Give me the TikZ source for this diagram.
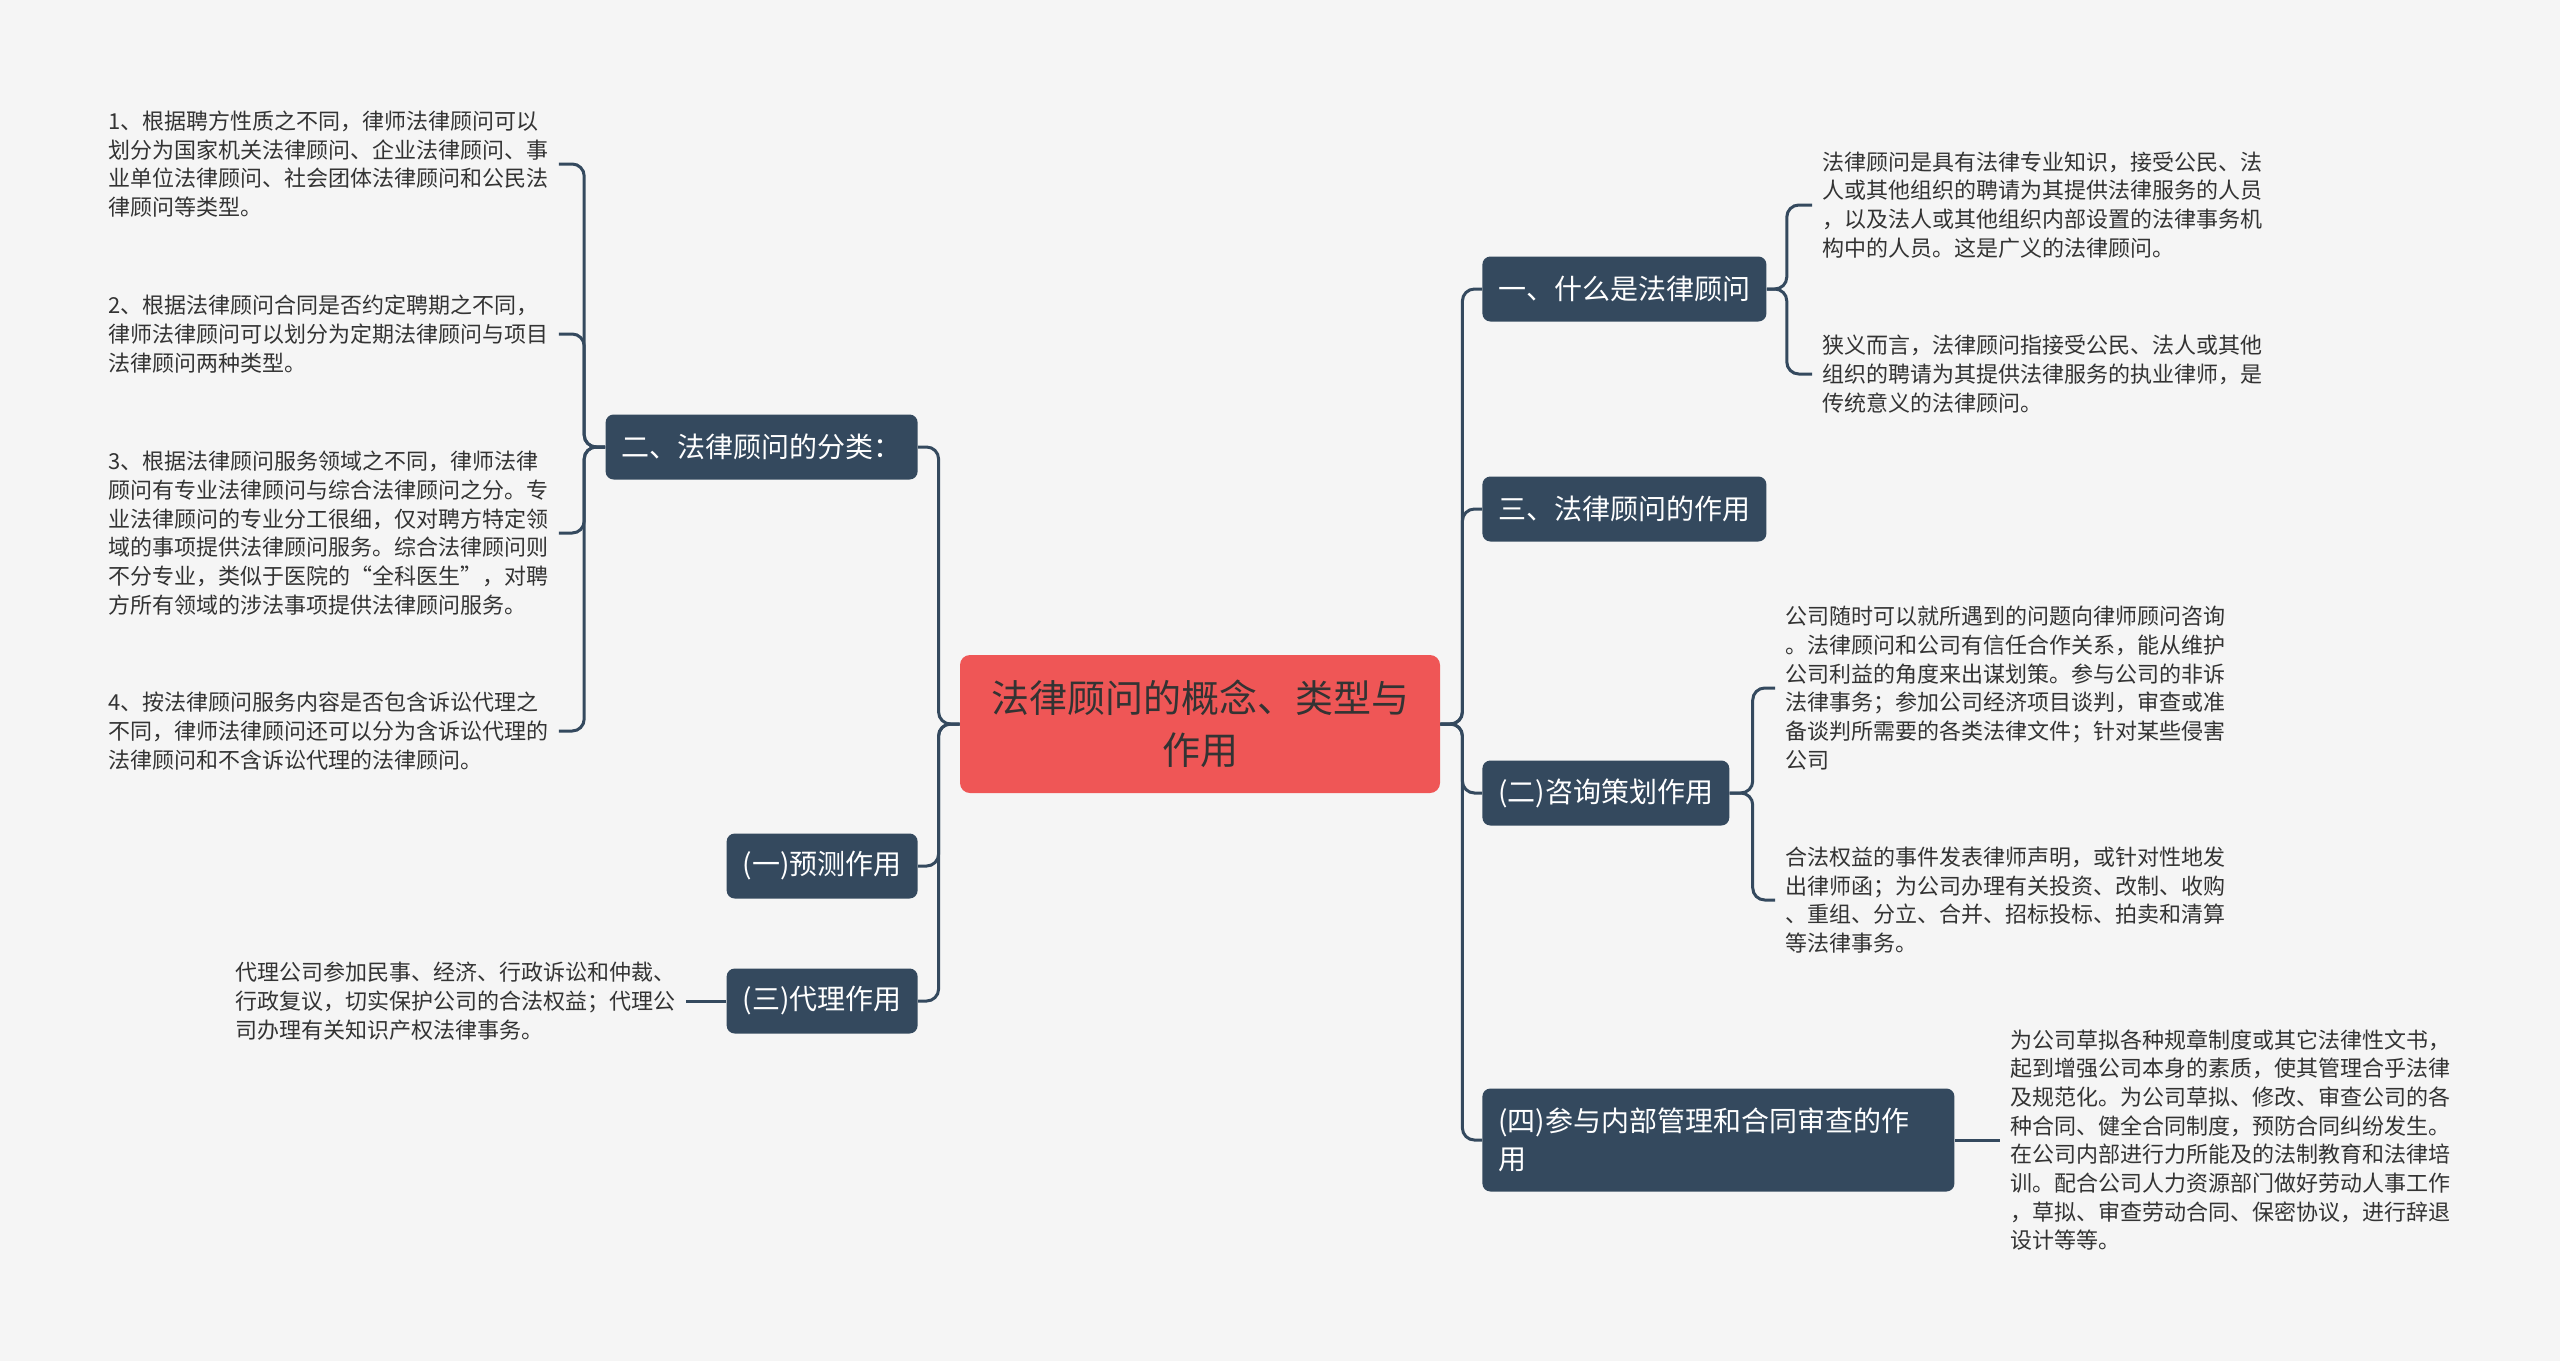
\documentclass[tikz,border=0pt]{standalone}
\usepackage{fontspec}
\setmainfont{Noto Sans CJK SC}
\definecolor{bgc}{HTML}{F5F5F5}
\definecolor{slate}{HTML}{34495E}
\definecolor{rootred}{HTML}{EF5656}
\definecolor{leaftext}{HTML}{333333}
\tikzset{
  topic/.style={fill=slate, text=white, rounded corners=4pt, inner xsep=8pt, minimum height=32.5pt, font=\fontsize{14pt}{19pt}\selectfont},
  leaf/.style={text=leaftext, align=left, inner xsep=5pt, inner ysep=0pt, font=\fontsize{11pt}{14.35pt}\selectfont},
  branch/.style={draw=slate, line width=1.5pt, rounded corners=6pt},
}
\begin{document}
\begin{tikzpicture}[x=0.5pt, y=-0.5pt]
  \useasboundingbox[fill=bgc] (0,0) rectangle (2560,1361);

  \node[fill=rootred, text=leaftext, rounded corners=5pt, minimum width=240pt, minimum height=69pt, align=center, font=\fontsize{19pt}{26pt}\selectfont] (root) at (1200,724) {法律顾问的概念、类型与\\作用};

  \node[topic, anchor=east] (fenlei) at (918,447) {二、法律顾问的分类：};
  \node[topic, anchor=east] (yuce) at (918,866) {(一)预测作用};
  \node[topic, anchor=east] (daili) at (918,1001) {(三)代理作用};

  \node[topic, anchor=west] (shenme) at (1482,289) {一、什么是法律顾问};
  \node[topic, anchor=west] (zuoyong) at (1482,509) {三、法律顾问的作用};
  \node[topic, anchor=west] (zixun) at (1482,793) {(二)咨询策划作用};
  \node[topic, anchor=west, align=left, text width=220pt, minimum height=51.5pt] (guanli) at (1482,1140) {(四)参与内部管理和合同审查的作\\用};

  \node[leaf, anchor=west] (lei1) at (98,164) {1、根据聘方性质之不同，律师法律顾问可以\\划分为国家机关法律顾问、企业法律顾问、事\\业单位法律顾问、社会团体法律顾问和公民法\\律顾问等类型。};
  \node[leaf, anchor=west] (lei2) at (98,334) {2、根据法律顾问合同是否约定聘期之不同，\\律师法律顾问可以划分为定期法律顾问与项目\\法律顾问两种类型。};
  \node[leaf, anchor=west] (lei3) at (98,533) {3、根据法律顾问服务领域之不同，律师法律\\顾问有专业法律顾问与综合法律顾问之分。专\\业法律顾问的专业分工很细，仅对聘方特定领\\域的事项提供法律顾问服务。综合法律顾问则\\不分专业，类似于医院的“全科医生”，对聘\\方所有领域的涉法事项提供法律顾问服务。};
  \node[leaf, anchor=west] (lei4) at (98,731) {4、按法律顾问服务内容是否包含诉讼代理之\\不同，律师法律顾问还可以分为含诉讼代理的\\法律顾问和不含诉讼代理的法律顾问。};
  \node[leaf, anchor=east] (dailitext) at (686,1001) {代理公司参加民事、经济、行政诉讼和仲裁、\\行政复议，切实保护公司的合法权益；代理公\\司办理有关知识产权法律事务。};

  \node[leaf, anchor=west] (guang) at (1812,205) {法律顾问是具有法律专业知识，接受公民、法\\人或其他组织的聘请为其提供法律服务的人员\\，以及法人或其他组织内部设置的法律事务机\\构中的人员。这是广义的法律顾问。};
  \node[leaf, anchor=west] (xia) at (1812,374) {狭义而言，法律顾问指接受公民、法人或其他\\组织的聘请为其提供法律服务的执业律师，是\\传统意义的法律顾问。};
  \node[leaf, anchor=west] (zixun1) at (1775,688) {公司随时可以就所遇到的问题向律师顾问咨询\\。法律顾问和公司有信任合作关系，能从维护\\公司利益的角度来出谋划策。参与公司的非诉\\法律事务；参加公司经济项目谈判，审查或准\\备谈判所需要的各类法律文件；针对某些侵害\\公司};
  \node[leaf, anchor=west] (zixun2) at (1775,900) {合法权益的事件发表律师声明，或针对性地发\\出律师函；为公司办理有关投资、改制、收购\\、重组、分立、合并、招标投标、拍卖和清算\\等法律事务。};
  \node[leaf, anchor=west] (guanlitext) at (2000,1140) {为公司草拟各种规章制度或其它法律性文书，\\起到增强公司本身的素质，使其管理合乎法律\\及规范化。为公司草拟、修改、审查公司的各\\种合同、健全合同制度，预防合同纠纷发生。\\在公司内部进行力所能及的法制教育和法律培\\训。配合公司人力资源部门做好劳动人事工作\\，草拟、审查劳动合同、保密协议，进行辞退\\设计等等。};

  \draw[branch] (root.west) -- ++(-21,0) |- (fenlei.east);
  \draw[branch] (root.west) -- ++(-21,0) |- (yuce.east);
  \draw[branch] (root.west) -- ++(-21,0) |- (daili.east);
  \draw[branch] (root.east) -- ++(22,0) |- (shenme.west);
  \draw[branch] (root.east) -- ++(22,0) |- (zuoyong.west);
  \draw[branch] (root.east) -- ++(22,0) |- (zixun.west);
  \draw[branch] (root.east) -- ++(22,0) |- (guanli.west);

  \draw[branch] (fenlei.west) -- ++(-21,0) |- (lei1.east);
  \draw[branch] (fenlei.west) -- ++(-21,0) |- (lei2.east);
  \draw[branch] (fenlei.west) -- ++(-21,0) |- (lei3.east);
  \draw[branch] (fenlei.west) -- ++(-21,0) |- (lei4.east);
  \draw[branch] (daili.west) -- (dailitext.east);

  \draw[branch] (shenme.east) -- ++(20,0) |- (guang.west);
  \draw[branch] (shenme.east) -- ++(20,0) |- (xia.west);
  \draw[branch] (zixun.east) -- ++(23,0) |- (zixun1.west);
  \draw[branch] (zixun.east) -- ++(23,0) |- (zixun2.west);
  \draw[branch] (guanli.east) -- (guanlitext.west);
\end{tikzpicture}
\end{document}
